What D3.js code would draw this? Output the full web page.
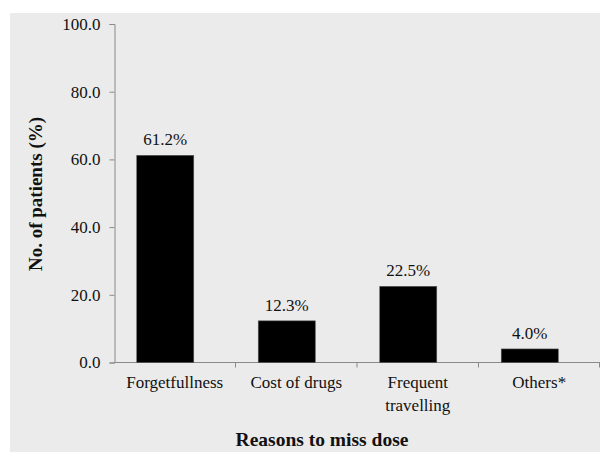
<!DOCTYPE html>
<html>
<head>
<meta charset="utf-8">
<script src="https://cdn.jsdelivr.net/npm/d3@7"></script>
<style>
  html, body { margin: 0; padding: 0; background: #ffffff; }
  svg { display: block; }
  text { font-family: "Liberation Serif", "Times New Roman", serif; fill: #111; }
</style>
</head>
<body>
<svg id="chart" width="600" height="452"></svg>
<script>
// Reasons patients gave for missing a dose
const categories = ["Forgetfullness", "Cost of drugs", "Frequent travelling", "Others*"];
const categoryLines = [["Forgetfullness"], ["Cost of drugs"], ["Frequent", "travelling"], ["Others*"]];
const percentages = [61.2, 12.3, 22.5, 4.0];
const yTicks = [0, 20, 40, 60, 80, 100];

const svg = d3.select("#chart");

// panel background
svg.append("rect")
  .attr("x", 10).attr("y", 13)
  .attr("width", 590).attr("height", 439)
  .attr("fill", "#ebebeb");

const x = d3.scaleBand().domain(categories).range([114, 600]);
const y = d3.scaleLinear().domain([0, 100]).range([362.5, 24]);

const axisColor = "#8a8a8a";

// y axis
const yAxis = svg.append("g")
  .attr("transform", "translate(114.5,0)")
  .call(d3.axisLeft(y).tickValues(yTicks).tickFormat(d3.format(".1f")).tickSize(5).tickPadding(9));
yAxis.select(".domain").attr("stroke", axisColor);
yAxis.selectAll(".tick line").attr("stroke", axisColor);
yAxis.selectAll(".tick text")
  .style("font-family", "'Liberation Serif', serif")
  .style("font-size", "17px")
  .attr("fill", "#111");

// x axis line and boundary ticks
const xBase = y(0);
svg.append("line")
  .attr("x1", 114).attr("x2", 600)
  .attr("y1", xBase).attr("y2", xBase)
  .attr("stroke", axisColor);
const bounds = categories.map(c => x(c)).concat([x(categories[categories.length - 1]) + x.bandwidth()]);
svg.selectAll("line.xtick").data(bounds.slice(1)).enter().append("line")
  .attr("class", "xtick")
  .attr("x1", d => Math.min(d, 599.5) ).attr("x2", d => Math.min(d, 599.5))
  .attr("y1", xBase).attr("y2", xBase + 5)
  .attr("stroke", axisColor);

// bars
const barW = 57;
const barOffset = -9.5;
const barCenter = c => x(c) + x.bandwidth() / 2 + barOffset;
svg.selectAll("rect.bar").data(categories).enter().append("rect")
  .attr("class", "bar")
  .attr("x", c => barCenter(c) - barW / 2)
  .attr("width", barW)
  .attr("y", (c, i) => y(percentages[i]))
  .attr("height", (c, i) => y(0) - y(percentages[i]))
  .attr("fill", "#000")
  .attr("stroke", "#555")
  .attr("stroke-width", 0.6);

// value labels
svg.selectAll("text.value").data(categories).enter().append("text")
  .attr("class", "value")
  .attr("x", c => barCenter(c))
  .attr("y", (c, i) => y(percentages[i]) - 10)
  .attr("text-anchor", "middle")
  .style("font-size", "17px")
  .text((c, i) => percentages[i].toFixed(1) + "%");

// category labels
const catG = svg.selectAll("text.cat").data(categories).enter().append("text")
  .attr("class", "cat")
  .attr("text-anchor", "middle")
  .style("font-size", "17px");
catG.each(function(c, i) {
  const t = d3.select(this);
  categoryLines[i].forEach((line, j) => {
    t.append("tspan")
      .attr("x", x(c) + x.bandwidth() / 2)
      .attr("y", 388 + j * 23)
      .text(line);
  });
});

// axis titles
svg.append("text")
  .attr("x", 322).attr("y", 446)
  .attr("text-anchor", "middle")
  .style("font-size", "19.5px")
  .style("font-weight", "bold")
  .text("Reasons to miss dose");

svg.append("text")
  .attr("transform", "translate(42,194) rotate(-90)")
  .attr("text-anchor", "middle")
  .style("font-size", "19px")
  .style("font-weight", "bold")
  .text("No. of patients (%)");
</script>
</body>
</html>
